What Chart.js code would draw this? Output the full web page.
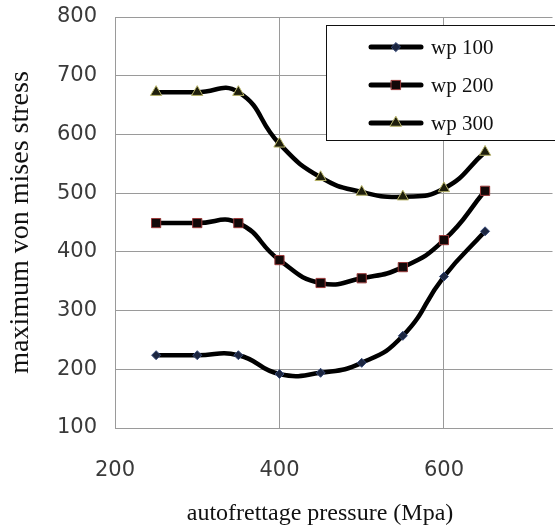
<!DOCTYPE html>
<html>
<head>
<meta charset="utf-8">
<script src="https://cdn.jsdelivr.net/npm/chart.js@4"></script>
<style>
  html, body { margin: 0; padding: 0; background: #fff; overflow: hidden; }
  #wrap { width: 560px; height: 527px; }
</style>
</head>
<body>
<div id="wrap"><canvas id="stressChart" width="560" height="527"></canvas></div>
<script>
const pressure = [250, 300, 350, 400, 450, 500, 550, 600, 650];
const wp100 = [224, 224, 224, 192, 194, 211, 257, 358, 435];
const wp200 = [449, 449, 449, 386, 347, 355, 374, 420, 504];
const wp300 = [672, 672, 672, 584, 527, 502, 494, 508, 570];
const seriesNames = ["wp 100", "wp 200", "wp 300"];
const xTicks = [200, 400, 600];
const yTicks = [100, 200, 300, 400, 500, 600, 700, 800];

function toPoints(values) {
  return pressure.map((p, i) => ({ x: p, y: values[i] }));
}

const lineStyle = {
  borderColor: "#000",
  borderWidth: 4.5,
  tension: 0.5,
  fill: false,
  pointBorderWidth: 1,
};

// legend box sitting inside the plot, like the original
const boxLegend = {
  id: "boxLegend",
  afterDraw(chart) {
    const ctx = chart.ctx;
    ctx.save();
    ctx.fillStyle = "#fff";
    ctx.strokeStyle = "#111";
    ctx.lineWidth = 1;
    ctx.fillRect(326.5, 25.5, 260, 115);
    ctx.strokeRect(326.5, 25.5, 260, 115);
    const rows = [47, 85, 123];
    chart.data.datasets.forEach((ds, i) => {
      const y = rows[i];
      ctx.strokeStyle = "#000";
      ctx.lineWidth = 5;
      ctx.lineCap = "round";
      ctx.beginPath();
      ctx.moveTo(371, y);
      ctx.lineTo(421, y);
      ctx.stroke();
      ctx.fillStyle = ds.pointBackgroundColor;
      ctx.strokeStyle = ds.pointBorderColor;
      ctx.lineWidth = 1;
      Chart.helpers.drawPoint(ctx, {
        pointStyle: ds.pointStyle,
        radius: ds.pointRadius,
        borderWidth: 1,
      }, 396, y);
      ctx.fillStyle = "#111";
      ctx.font = "21px 'Liberation Serif'";
      ctx.textAlign = "left";
      ctx.textBaseline = "middle";
      ctx.fillText(ds.label, 431, y + 1);
    });
    // x axis title
    ctx.fillStyle = "#111";
    ctx.font = "24px 'Liberation Serif'";
    ctx.textAlign = "center";
    ctx.textBaseline = "middle";
    ctx.fillText("autofrettage pressure (Mpa)", 320, 514);
    ctx.restore();
  },
};

new Chart(document.getElementById("stressChart"), {
  type: "line",
  data: {
    datasets: [
      {
        ...lineStyle,
        label: seriesNames[0],
        data: toPoints(wp100),
        pointStyle: "rectRot",
        pointRadius: 4.5,
        pointBackgroundColor: "#1c2640",
        pointBorderColor: "#3a4d7a",
      },
      {
        ...lineStyle,
        label: seriesNames[1],
        data: toPoints(wp200),
        pointStyle: "rect",
        pointRadius: 6.5,
        pointBackgroundColor: "#120808",
        pointBorderColor: "#9a3a3a",
      },
      {
        ...lineStyle,
        label: seriesNames[2],
        data: toPoints(wp300),
        pointStyle: "triangle",
        pointRadius: 6.5,
        pointBackgroundColor: "#1e1e0c",
        pointBorderColor: "#b8b46a",
      },
    ],
  },
  options: {
    responsive: false,
    animation: false,
    layout: { padding: { top: 17, left: 0, right: 0, bottom: 0 } },
    plugins: {
      legend: { display: false },
      tooltip: { enabled: false },
    },
    scales: {
      x: {
        type: "linear",
        min: 200,
        max: 732,
        afterBuildTicks: (scale) => {
          scale.ticks = xTicks.map((v) => ({ value: v }));
        },
        afterFit: (scale) => {
          scale.height = 99;
          scale.paddingLeft = 0;
          scale.paddingRight = 0;
        },
        grid: { color: "#9a9a9a", drawTicks: false, lineWidth: 1 },
        border: { color: "#9a9a9a" },
        ticks: {
          padding: 30,
          color: "#3a3a3a",
          font: { family: "'DejaVu Sans'", size: 21 },
        },
      },
      y: {
        min: 100,
        max: 800,
        afterBuildTicks: (scale) => {
          scale.ticks = yTicks.map((v) => ({ value: v }));
        },
        afterFit: (scale) => {
          scale.width = 115;
          scale.paddingTop = 0;
          scale.paddingBottom = 0;
        },
        grid: { color: "#9a9a9a", drawTicks: false, lineWidth: 1 },
        border: { color: "#9a9a9a" },
        ticks: {
          padding: 18,
          color: "#3a3a3a",
          font: { family: "'DejaVu Sans'", size: 21 },
        },
        title: {
          display: true,
          text: "maximum von mises stress",
          color: "#111",
          padding: { top: 4, bottom: 0 },
          font: { family: "'Liberation Serif'", size: 28 },
        },
      },
    },
  },
  plugins: [boxLegend],
});
</script>
</body>
</html>
